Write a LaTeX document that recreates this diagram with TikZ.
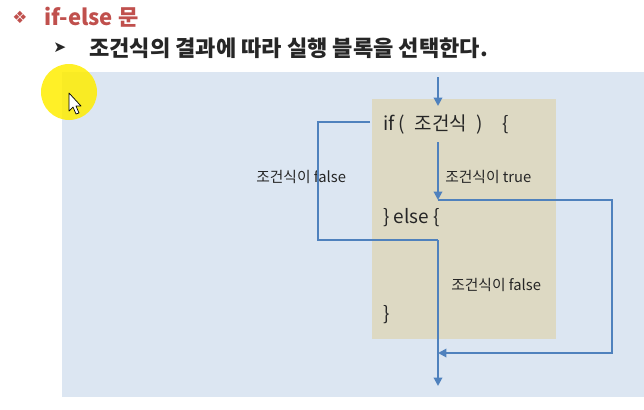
\documentclass[tikz,border=0pt]{standalone}
\usepackage{fontspec}
\setmainfont{Noto Sans CJK KR}
\newfontfamily\symfont{DejaVu Sans}
\usepackage{xcolor}
\definecolor{paneblue}{HTML}{DCE6F2}
\definecolor{codetan}{HTML}{DDD9C3}
\definecolor{flowblue}{HTML}{4F81BD}
\definecolor{titlered}{HTML}{C0504D}
\definecolor{textgray}{HTML}{262626}
\usetikzlibrary{arrows.meta, positioning}

\begin{document}
\begin{tikzpicture}[x=0.025cm, y=-0.025cm,
  flow/.style={draw=flowblue, line width=1.4pt},
  flowarr/.style={flow, -{Triangle[width=6pt, length=6pt]}},
  code/.style={anchor=west, inner sep=0pt, font=\fontsize{13.5}{15}\selectfont, text=textgray},
  lbl/.style={anchor=west, inner sep=0pt, font=\fontsize{10.5}{12}\selectfont, text=textgray}]
  \useasboundingbox (0,0) rectangle (644,409);

  % Heading lines
  \node[anchor=west, inner sep=0pt, text=titlered, font=\symfont\fontsize{12}{14}\selectfont] (bullet) at (12,17) {❖};
  \node[anchor=west, inner sep=0pt, text=titlered, font=\bfseries\fontsize{15.7}{18}\selectfont] (title) at (44,17) {if-else 문};
  \node[anchor=west, inner sep=0pt, text=textgray, font=\symfont\fontsize{11}{13}\selectfont] (pointer) at (53,48) {➤};
  \node[anchor=west, inner sep=0pt, text=textgray, font=\bfseries\fontsize{15.7}{18}\selectfont] (subtitle) at (89,48) {조건식의 결과에 따라 실행 블록을 선택한다.};

  % Panel and code block
  \fill[paneblue] (62,72) rectangle (644,397);
  \fill[codetan] (372,99) rectangle (556,339);

  % Code lines
  \node[code] (ifline) at (383,125) {if (\enspace 조건식\enspace )\quad \{};
  \node[code] (elseline) at (383,218) {\} else \{};
  \node[code] (closeline) at (383,315) {\}};

  % Branch labels
  \node[lbl] (falseA) at (256,177) {조건식이 false};
  \node[lbl] (trueL) at (445,177) {조건식이 true};
  \node[lbl] (falseB) at (451,285) {조건식이 false};

  % Corner points of the paths
  \coordinate (entryS) at (438,77);
  \coordinate (entryE) at (438,106);
  \coordinate (ifleft) at (370,122);
  \coordinate (lefttop) at (318,122);
  \coordinate (leftbot) at (318,240);
  \coordinate (join) at (438,240);
  \coordinate (exitE) at (438,386);
  \coordinate (trueS) at (438,142);
  \coordinate (trueE) at (438,200);
  \coordinate (righttop) at (612,200);
  \coordinate (rightbot) at (612,353);
  \coordinate (merge) at (438,353);

  % Flow
  \draw[flowarr] (entryS) -- (entryE);
  \draw[flowarr] (trueS) -- (trueE);
  \draw[flow] (ifleft) -- (lefttop) -- (leftbot) -- (join);
  \draw[flowarr] (join) -- (exitE);
  \draw[flowarr] (trueE) -- (righttop) -- (rightbot) -- (merge);

  % Pointer highlight
  \fill[yellow!95!orange, opacity=0.85] (69,92) circle (28);
  \draw[fill=white, line width=0.5pt, line join=round] (69,93) -- (69,111) -- (73,107) -- (76,114) -- (79,113) -- (76,106) -- (81,106) -- cycle;
\end{tikzpicture}
\end{document}
